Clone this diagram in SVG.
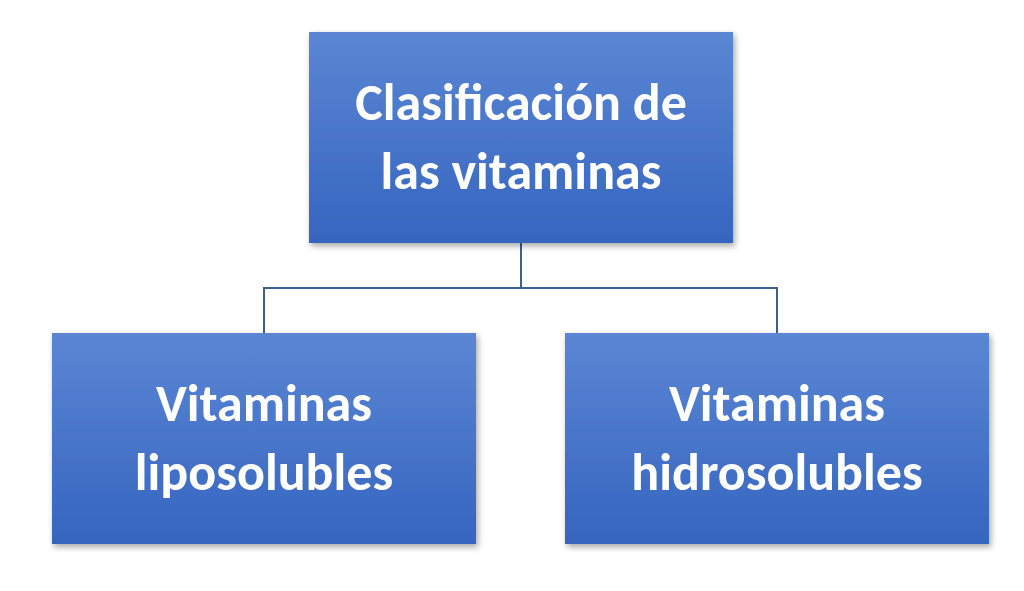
<svg xmlns="http://www.w3.org/2000/svg" width="1024" height="591" viewBox="0 0 1024 591">
<defs>
<linearGradient id="g" x1="0" y1="0" x2="0" y2="1">
<stop offset="0" stop-color="#5b86d4"/>
<stop offset="1" stop-color="#3565bf"/>
</linearGradient>
<filter id="s" x="-10%" y="-10%" width="130%" height="130%"><feDropShadow dx="2" dy="3" stdDeviation="3" flood-opacity="0.35"/></filter>
</defs>
<style>
.b{fill:url(#g);filter:url(#s)}
.t{font-family:Calibri,"Open Sans","Liberation Sans",sans-serif;font-weight:bold;fill:#fff;font-size:52px;text-anchor:middle}
.c{stroke:#3f5f8f;stroke-width:2;fill:none}
</style>
<rect width="1024" height="591" fill="#fff"/>
<g id="connectors">
<path class="c" d="M521 243V288H264V333M521 288H777V333"/>
</g>
<g id="root"><rect class="b" x="309" y="32" width="424" height="211"/>
<text class="t" x="521" y="120">Clasificación de</text><text class="t" x="521" y="189">las vitaminas</text></g>
<g id="lipo"><rect class="b" x="52" y="333" width="424" height="211"/>
<text class="t" x="264" y="421">Vitaminas</text><text class="t" x="264" y="490">liposolubles</text></g>
<g id="hidro"><rect class="b" x="565" y="333" width="424" height="211"/>
<text class="t" x="777" y="421">Vitaminas</text><text class="t" x="777" y="490">hidrosolubles</text></g>
</svg>
